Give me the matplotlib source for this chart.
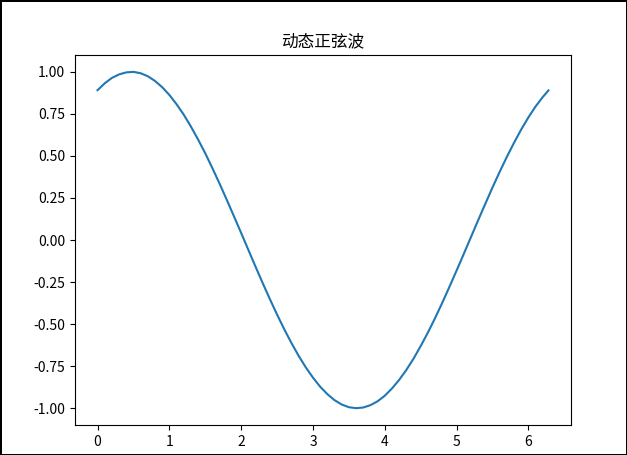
import matplotlib
matplotlib.use("Agg")
import matplotlib.pyplot as plt

plt.rcParams['font.family'] = ['Noto Sans CJK SC', 'DejaVu Sans']
plt.rcParams['axes.unicode_minus'] = False

# values
x_vals = [0.0, 0.1, 0.2, 0.3, 0.4, 0.5, 0.6, 0.7, 0.8, 0.9, 1.0, 1.1, 1.2,
          1.3, 1.4, 1.5, 1.6, 1.7, 1.8, 1.9, 2.0, 2.1, 2.2, 2.3, 2.4, 2.5,
          2.6, 2.7, 2.8, 2.9, 3.0, 3.1, 3.2, 3.3, 3.4, 3.5, 3.6, 3.7, 3.8,
          3.9, 4.0, 4.1, 4.2, 4.3, 4.4, 4.5, 4.6, 4.7, 4.8, 4.9, 5.0, 5.1,
          5.2, 5.3, 5.4, 5.5, 5.6, 5.7, 5.8, 5.9, 6.0, 6.1, 6.2, 6.28]
y_vals = [0.891, 0.932, 0.964, 0.985, 0.997, 1.000, 0.992, 0.974, 0.946,
          0.909, 0.863, 0.808, 0.746, 0.675, 0.598, 0.516, 0.427, 0.335,
          0.239, 0.141, 0.042, -0.058, -0.158, -0.256, -0.351, -0.443,
          -0.530, -0.612, -0.688, -0.757, -0.818, -0.872, -0.916, -0.952,
          -0.978, -0.994, -1.000, -0.996, -0.982, -0.959, -0.926, -0.883,
          -0.832, -0.773, -0.706, -0.631, -0.551, -0.465, -0.374, -0.279,
          -0.182, -0.083, 0.017, 0.117, 0.215, 0.312, 0.405, 0.494, 0.578,
          0.657, 0.729, 0.794, 0.850, 0.890]
title = "动态正弦波"

fig = plt.figure(figsize=(6.27, 4.55), dpi=100, edgecolor='black', linewidth=1)
ax = fig.add_axes([0.1196, 0.0659, 0.7911, 0.8131])
ax.plot(x_vals, y_vals, color='#1f77b4', linewidth=1.5)
ax.set_title(title, fontsize=12)
ax.set_yticks([-1.0, -0.75, -0.5, -0.25, 0.0, 0.25, 0.5, 0.75, 1.0])
ax.set_yticklabels([f"{v:.2f}" for v in ax.get_yticks()])

fig.savefig("out.png", dpi=100, edgecolor=fig.get_edgecolor())
